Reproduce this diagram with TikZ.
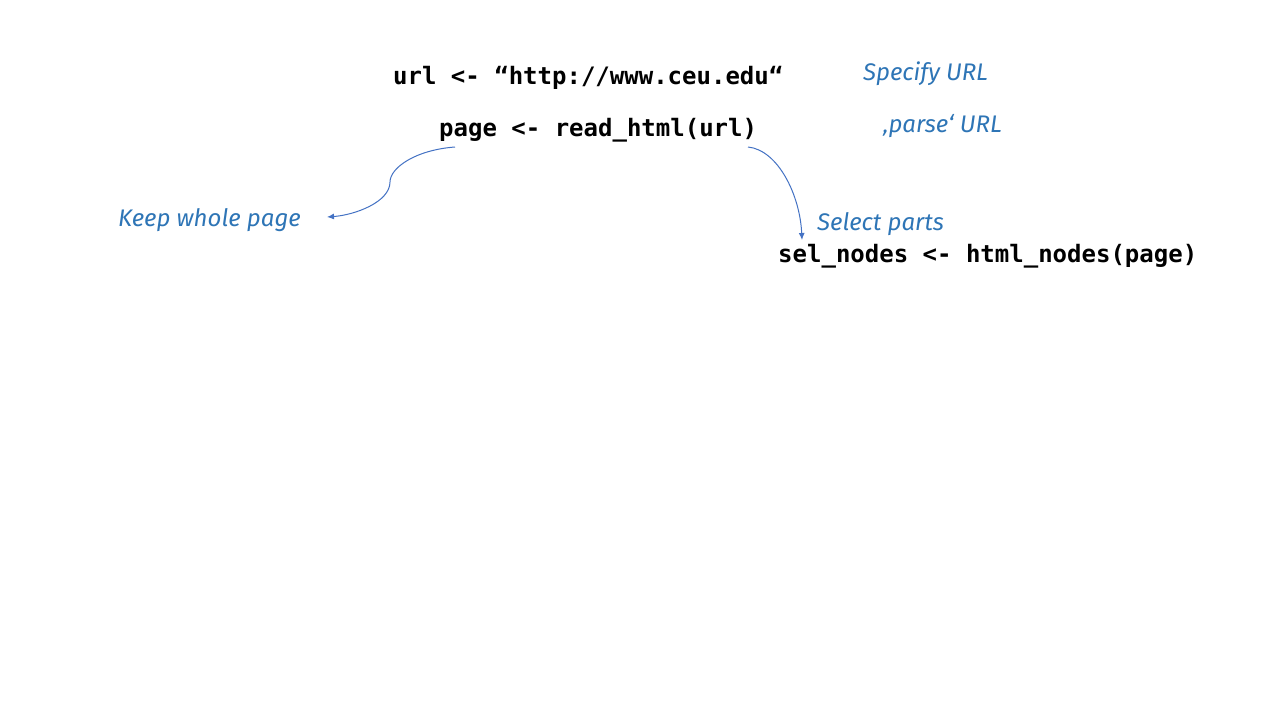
\documentclass[tikz,border=0pt]{standalone}
\usepackage{fontspec}
\setmonofont{DejaVu Sans Mono}
\newfontfamily\notefont{Fira Sans}
\usetikzlibrary{arrows.meta}
\definecolor{noteblue}{RGB}{46,117,182}
\definecolor{arrowblue}{RGB}{68,114,196}
\tikzset{
  code/.style={anchor=base west, inner sep=0pt, font=\ttfamily\bfseries\fontsize{24}{28}\selectfont, text=black},
  note/.style={anchor=base west, inner sep=0pt, font=\notefont\itshape\fontsize{24}{28}\selectfont, text=noteblue},
  link/.style={draw=arrowblue, line width=1pt, -{Latex[length=7pt,width=6pt]}}
}
\begin{document}
\begin{tikzpicture}[x=1pt,y=-1pt]
\useasboundingbox[fill=white] (0,0) rectangle (1280,720);
\node[code] (url) at (393,84) {url <- “http://www.ceu.edu“};
\node[code] (page) at (439,136) {page <- read\_html(url)};
\node[code] (sel) at (778,262) {sel\_nodes <- html\_nodes(page)};
\node[note] (spec) at (863,80) {Specify URL};
\node[note] (parse) at (883,132) {‚parse‘ URL};
\node[note] (keep) at (118,226) {Keep whole page};
\node[note] (selp) at (817,230) {Select parts};
\coordinate (ls) at (455,147);
\coordinate (le) at (327,217);
\coordinate (rs) at (748,147);
\coordinate (re) at (802,240);
\draw[link] (ls) .. controls (415,150) and (390,168) .. (390,182) .. controls (390,202) and (355,215) .. (le);
\draw[link] (rs) .. controls (778,150) and (800,195) .. (re);
\end{tikzpicture}
\end{document}
